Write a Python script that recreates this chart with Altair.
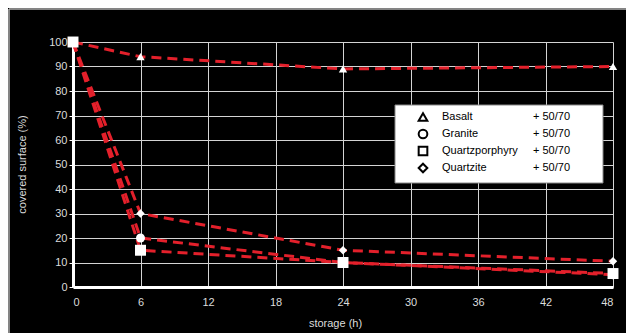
import altair as alt
import pandas as pd

# ---- data ----
hours = [0, 6, 24, 48]
basalt = [100, 94, 89, 90]
granite = [100, 20, 10, 5]
quartzporphyry = [100, 15, 10, 5.5]
quartzite = [100, 30, 15, 10.5]

series_names = ["Basalt", "Granite", "Quartzporphyry", "Quartzite"]
series_values = [basalt, granite, quartzporphyry, quartzite]
series_shapes = ["triangle-up", "circle", "square", "diamond"]
series_sizes = [70, 80, 120, 70]
binder_label = "+ 50/70"

x_ticks = [0, 6, 12, 18, 24, 30, 36, 42, 48]
y_ticks = [0, 10, 20, 30, 40, 50, 60, 70, 80, 90, 100]

rows = []
for name, vals in zip(series_names, series_values):
    for h, v in zip(hours, vals):
        rows.append({"series": name, "hours": h, "covered": v})
df = pd.DataFrame(rows)

W, H = 540, 245
RED = "#e3202b"
FONT = "Liberation Sans"

x_enc = alt.X("hours:Q", scale=alt.Scale(domain=[0, 48], nice=False),
              axis=alt.Axis(values=x_ticks, title="storage (h)", titleX=262, titleY=36,
                            titleAnchor=None, titleAlign="center", titleBaseline="middle",
                            labelPadding=9, tickSize=0, labelFontSize=11, labelOverlap=False))
y_enc = alt.Y("covered:Q", scale=alt.Scale(domain=[0, 100], nice=False),
              axis=alt.Axis(values=y_ticks, tickCount=11, title="covered surface (%)",
                            titleX=-51, titleY=122,
                            titleAngle=-90, titleAlign="center", titleBaseline="middle",
                            labelPadding=2, tickSize=4, labelFontSize=11, labelOverlap=False))

lines = alt.Chart(df).mark_line(color=RED, strokeWidth=3, strokeDash=[10, 6]).encode(
    x=x_enc, y=y_enc, detail="series:N"
)

layers = [lines]
for name, shape, size in zip(series_names, series_shapes, series_sizes):
    layers.append(
        alt.Chart(df[df.series == name]).mark_point(
            shape=shape, filled=True, fill="white", color="white", size=size, opacity=1
        ).encode(x=x_enc, y=y_enc)
    )

# ---- legend (manual) ----
LX, LY, LW, LH = 322, 63, 208, 78
row_y = [75, 92, 109, 126]
layers.append(
    alt.Chart(df.head(1)).mark_rect(fill="white", stroke="#888", strokeWidth=1).encode(
        x=alt.value(LX), x2=alt.value(LX + LW), y=alt.value(LY), y2=alt.value(LY + LH)
    )
)
for name, shape, yy in zip(series_names, series_shapes, row_y):
    layers.append(
        alt.Chart(df.head(1)).mark_point(shape=shape, filled=False, stroke="black",
                                          strokeWidth=2, size=75, opacity=1).encode(
            x=alt.value(350), y=alt.value(yy)
        )
    )
    layers.append(
        alt.Chart(df.head(1)).mark_text(text=name, align="left", baseline="middle",
                                         font=FONT, fontSize=11, color="black").encode(
            x=alt.value(369), y=alt.value(yy)
        )
    )
    layers.append(
        alt.Chart(df.head(1)).mark_text(text=binder_label, align="left", baseline="middle",
                                         font=FONT, fontSize=11, color="black").encode(
            x=alt.value(460), y=alt.value(yy)
        )
    )

# frame lines (top and left)
layers.append(
    alt.Chart(df.head(1)).mark_rule(color="#b0b0b0", strokeWidth=1.5).encode(
        x=alt.value(-64), x2=alt.value(W + 13), y=alt.value(-33)
    )
)
layers.append(
    alt.Chart(df.head(1)).mark_rule(color="#b0b0b0", strokeWidth=1.5).encode(
        x=alt.value(-64), y=alt.value(-33), y2=alt.value(H + 46)
    )
)

chart = alt.layer(*layers).properties(
    width=W, height=H,
    autosize=alt.AutoSizeParams(type="none"),
    padding={"left": 65, "top": 34, "right": 13, "bottom": 46},
    background="black",
).configure_view(stroke=None).configure_axis(
    grid=True, gridColor="#d4d4d4", gridWidth=1,
    domainColor="white", domainWidth=3,
    tickColor="white", tickWidth=1,
    labelColor="#dcdcdc", labelFont=FONT,
    titleColor="#dcdcdc", titleFont=FONT, titleFontSize=11, titleFontWeight="normal",
)

chart.save("out.html", embed_options={"renderer": "svg", "actions": False})
